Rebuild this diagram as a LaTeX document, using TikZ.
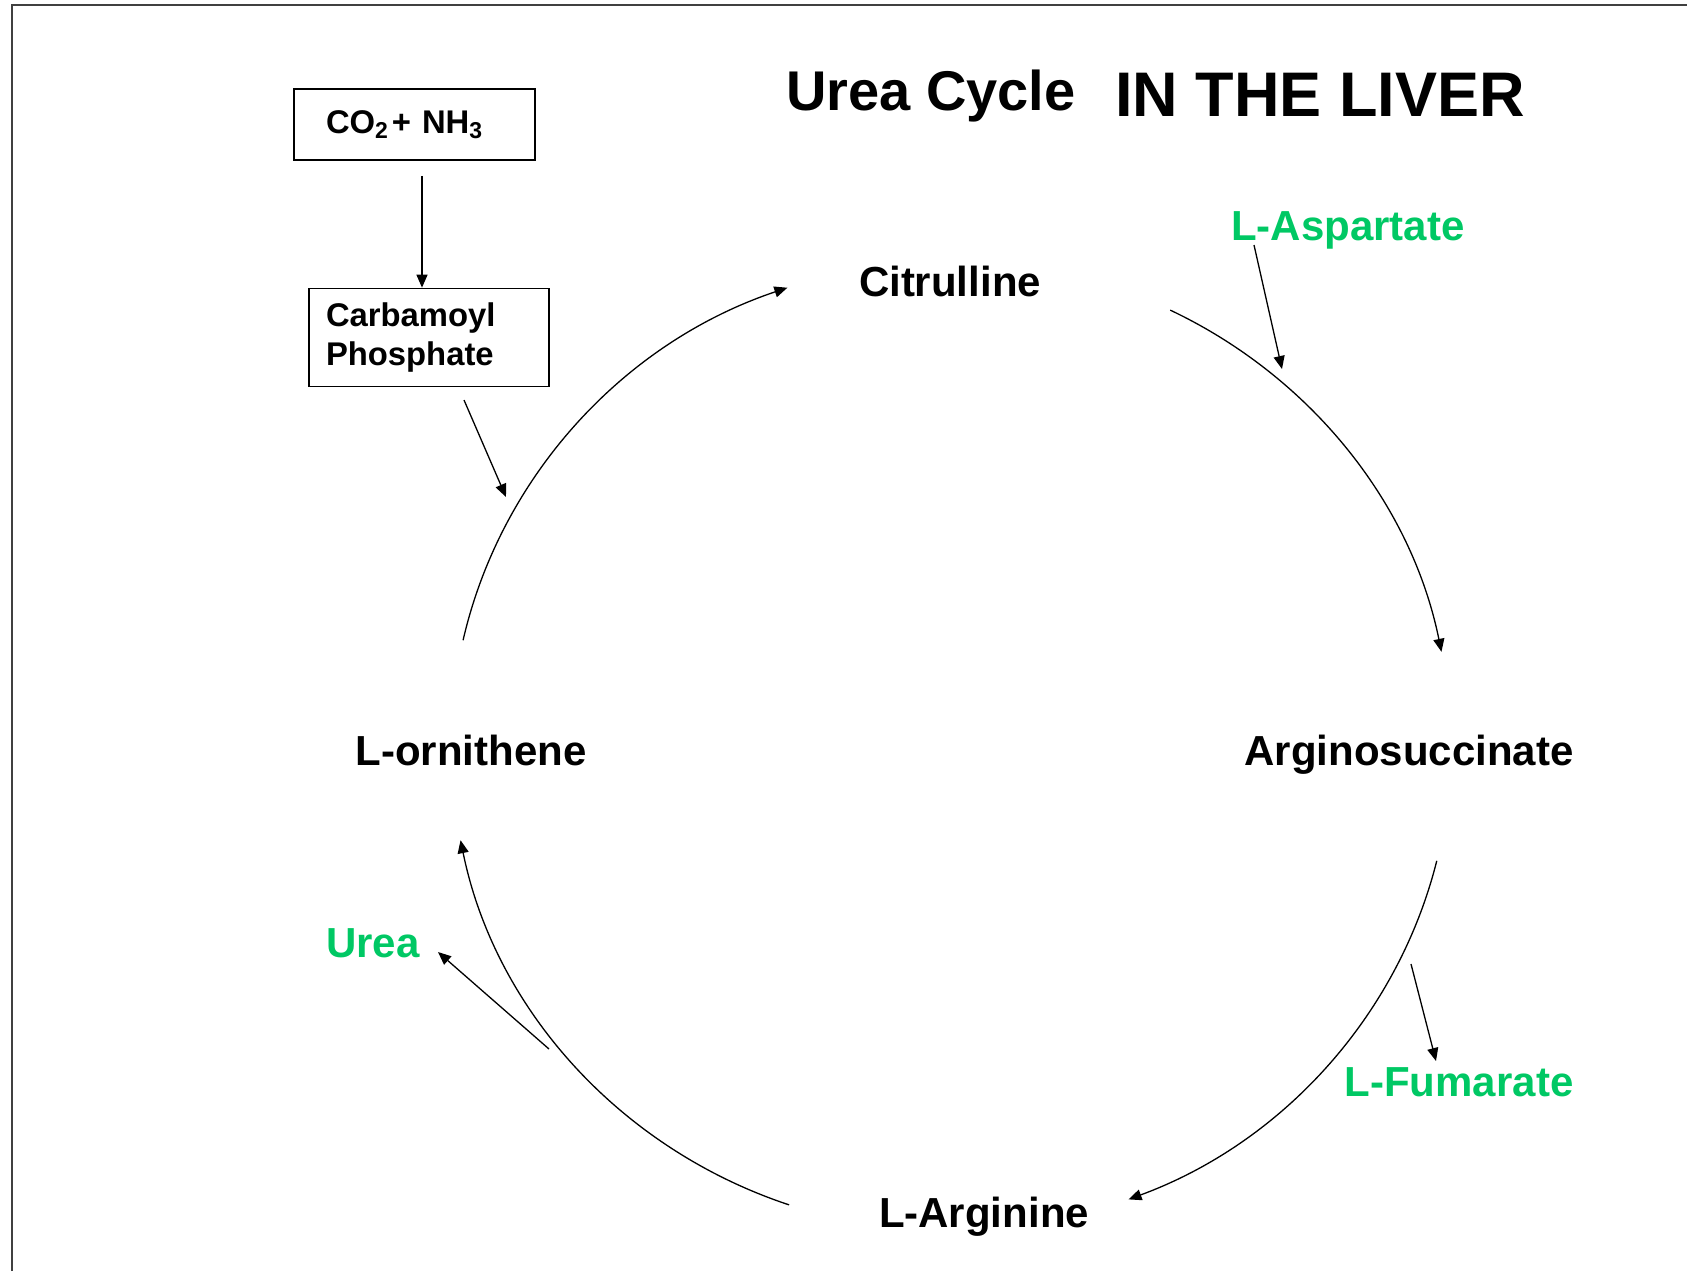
\documentclass[tikz,border=0pt]{standalone}
\usepackage{fontspec}
\setmainfont{Liberation Sans}
\usetikzlibrary{arrows.meta}
\definecolor{molgreen}{RGB}{0,200,100}

\tikzset{
  lbl/.style={font=\fontsize{21}{25}\selectfont\bfseries,anchor=base,inner sep=0pt},
  glbl/.style={lbl,text=molgreen},
  box/.style={draw,line width=0.75pt,align=left,font=\fontsize{16.4}{19.4}\selectfont\bfseries},
  cyc/.style={line width=0.65pt,-{Triangle[length=6.5pt,width=5.5pt]}},
}

\begin{document}
\begin{tikzpicture}[x=0.5pt,y=-0.5pt]
      \useasboundingbox (0,0) rectangle (1687,1271);
      \draw[line width=1pt,black!75] (12,1271) -- (12,5) -- (1687,5);

      %% title
      \node[anchor=base,font=\fontsize{28}{32}\selectfont\bfseries] (t1) at (931,110) {Urea Cycle};
      \node[anchor=base,font=\fontsize{31.5}{36}\selectfont\bfseries] (t2) at (1320,116) {IN THE LIVER};

      %% the cycle
      \coordinate (c) at (951,746);
      \node[lbl] (1) at (950,296) {Citrulline};
      \node[lbl] (2) at (1409,765) {Arginosuccinate};
      \node[lbl] (3) at (984,1227) {L-Arginine};
      \node[lbl] (4) at (471,765) {L-ornithene};

      \draw[cyc] (c) ++(192.6:500 and 485) arc[start angle=192.6,end angle=250.9,x radius=500,y radius=485];
      \draw[cyc] (c) ++(296:500 and 485) arc[start angle=296,end angle=348.8,x radius=500,y radius=485];
      \draw[cyc] (c) ++(13.7:500 and 485) arc[start angle=13.7,end angle=69.2,x radius=500,y radius=485];
      \draw[cyc] (c) ++(108.9:500 and 485) arc[start angle=108.9,end angle=168.8,x radius=500,y radius=485];

      %% feeding in
      \node[box,minimum width=120.5pt,minimum height=35.5pt,text width=88.5pt,inner xsep=16pt] (5) at (414.5,124.5) {CO\textsubscript{2}\kern1.5pt+ NH\textsubscript{3}};
      \node[box,below of=5,yshift=-78pt,minimum width=120pt,minimum height=49pt,text width=103pt,inner xsep=8.5pt,xshift=7.25pt] (6) {Carbamoyl\\Phosphate};
      \draw[cyc,shorten <=7.5pt] ([xshift=3.75pt]5.south) -- ([xshift=-3.5pt]6.north);
      \coordinate (6a) at (464,400);
      \coordinate (6b) at (506,497);
      \draw[cyc] (6a) -- (6b);

      %% side products
      \node[glbl] (7) at (1348,240) {L-Aspartate};
      \node[glbl] (8) at (1459,1096) {L-Fumarate};
      \node[glbl] (9) at (373,957) {Urea};
      \coordinate (7a) at (1254,245);
      \coordinate (7b) at (1282,369);
      \coordinate (8a) at (1411,964);
      \coordinate (8b) at (1436,1061);
      \coordinate (9a) at (549,1049);
      \coordinate (9b) at (438,952);
      \draw[cyc] (7a) -- (7b);
      \draw[cyc] (8a) -- (8b);
      \draw[cyc] (9a) -- (9b);
    \end{tikzpicture}
\end{document}
